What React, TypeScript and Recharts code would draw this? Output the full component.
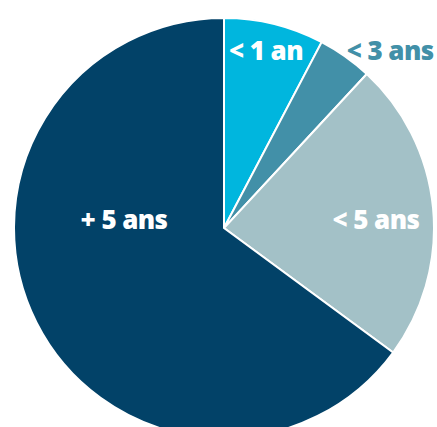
import { PieChart, Pie, Cell } from "recharts"

const categories = ["< 1 an", "< 3 ans", "< 5 ans", "+ 5 ans"]
const shares = [7.7, 4.2, 23.2, 64.9]
const colors = ["#00B6DE", "#4290A8", "#A3C1C7", "#024268"]
const labelColors = ["#ffffff", "#4290A8", "#ffffff", "#ffffff"]
// label placement: angle from 12 o'clock (clockwise, degrees) and radius as a fraction of the pie radius
const labelAngles = [13.3, 43, 86.6, -84.9]
const labelRadii = [0.87, 1.16, 0.725, 0.478]

const data = categories.map((name, i) => ({ name, value: shares[i] }))

const renderLabel = (props: any) => {
  const { cx, cy, outerRadius, index } = props
  const a = (labelAngles[index] * Math.PI) / 180
  const r = outerRadius * labelRadii[index]
  const x = cx + r * Math.sin(a)
  const y = cy - r * Math.cos(a)
  return (
    <text
      x={x}
      y={y}
      fill={labelColors[index]}
      textAnchor="middle"
      dominantBaseline="central"
      fontFamily="'Open Sans', sans-serif"
      fontWeight={800}
      fontSize={26}
      letterSpacing={-0.6}
    >
      {categories[index]}
    </text>
  )
}

export default function App() {
  return (
    <div style={{ position: "fixed", top: 0, left: 0, width: 437, height: 427, overflow: "hidden", background: "#fff" }}>
      <PieChart width={437} height={427} margin={{ top: 0, right: 0, bottom: 0, left: 0 }}>
        <Pie
          data={data}
          dataKey="value"
          nameKey="name"
          cx={224}
          cy={228}
          outerRadius={210}
          startAngle={90}
          endAngle={-270}
          stroke="#ffffff"
          strokeWidth={2}
          label={renderLabel}
          labelLine={false}
          isAnimationActive={false}
        >
          {data.map((d, i) => (
            <Cell key={d.name} fill={colors[i]} />
          ))}
        </Pie>
      </PieChart>
    </div>
  )
}
